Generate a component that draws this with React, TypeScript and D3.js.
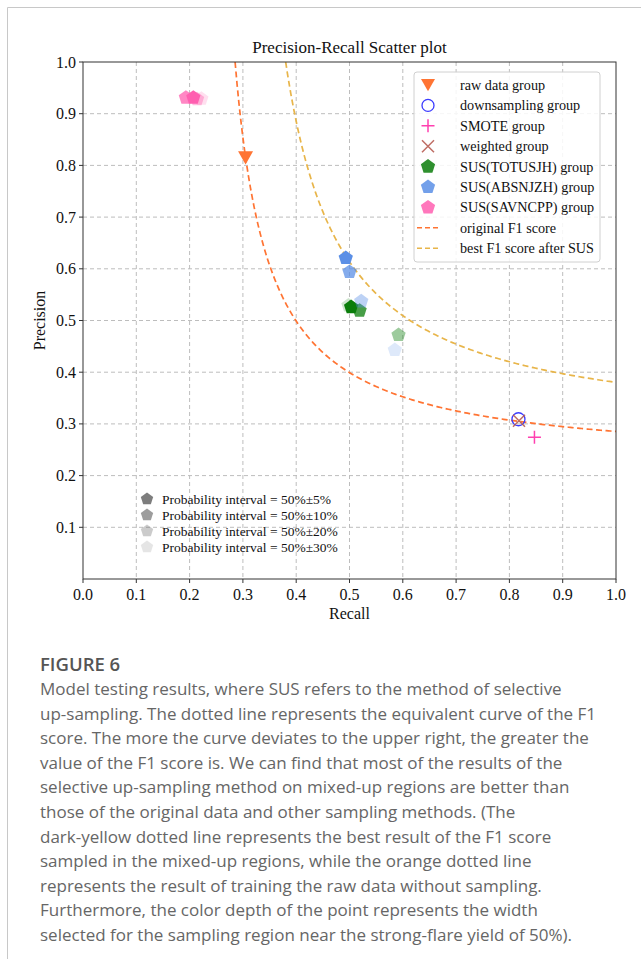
import React from "react";
import * as d3 from "d3";

// ---- data ----
const rawRecall = [0.305];
const rawPrecision = [0.815];
const downRecall = [0.817];
const downPrecision = [0.309];
const smoteRecall = [0.847];
const smotePrecision = [0.274];
const weightedRecall = [0.818];
const weightedPrecision = [0.306];
const totRecall = [0.503, 0.519, 0.592, 0.498];
const totPrecision = [0.526, 0.519, 0.472, 0.529];
const absRecall = [0.493, 0.5, 0.522, 0.585];
const absPrecision = [0.621, 0.594, 0.537, 0.443];
const savRecall = [0.207, 0.193, 0.214, 0.222];
const savPrecision = [0.931, 0.931, 0.928, 0.929];
const intervalLabels = ["50%±5%", "50%±10%", "50%±20%", "50%±30%"];
const intervalOpacity = [1, 0.75, 0.4, 0.2];
const originalF1 = 0.444;
const bestF1 = 0.551;
const xTicks = [0, 0.1, 0.2, 0.3, 0.4, 0.5, 0.6, 0.7, 0.8, 0.9, 1.0];
const yTicks = [0.1, 0.2, 0.3, 0.4, 0.5, 0.6, 0.7, 0.8, 0.9, 1.0];
const legendLabels = [
  "raw data group",
  "downsampling group",
  "SMOTE group",
  "weighted group",
  "SUS(TOTUSJH) group",
  "SUS(ABSNJZH) group",
  "SUS(SAVNCPP) group",
  "original F1 score",
  "best F1 score after SUS",
];
const captionTitle = "FIGURE 6";
const captionLines = [
  "Model testing results, where SUS refers to the method of selective",
  "up-sampling. The dotted line represents the equivalent curve of the F1",
  "score. The more the curve deviates to the upper right, the greater the",
  "value of the F1 score is. We can find that most of the results of the",
  "selective up-sampling method on mixed-up regions are better than",
  "those of the original data and other sampling methods. (The",
  "dark-yellow dotted line represents the best result of the F1 score",
  "sampled in the mixed-up regions, while the orange dotted line",
  "represents the result of training the raw data without sampling.",
  "Furthermore, the color depth of the point represents the width",
  "selected for the sampling region near the strong-flare yield of 50%).",
];

const W = 641;
const H = 959;
const X0 = 83, X1 = 616, Y0 = 579, Y1 = 62;
const serif = "'Liberation Serif', 'Times New Roman', serif";
const sans = "'Open Sans', 'Noto Sans', sans-serif";

const C_ORANGE = "#ff7433";
const C_YELLOW = "#e8b54a";
const C_PINK = "#ff5fb0";
const C_GREEN = "#0a7d0a";
const C_BLUE = "#5b8fe6";
const C_CIRCLE = "#3b3bff";
const C_PLUS = "#ff40b0";
const C_X = "#b5554a";

function pentagon(cx: number, cy: number, r: number) {
  const pts: [number, number][] = d3.range(5).map((i) => {
    const a = -Math.PI / 2 + (i * 2 * Math.PI) / 5;
    return [cx + r * Math.cos(a), cy + r * Math.sin(a)];
  });
  return (d3.line()(pts) as string) + "Z";
}

export default function App() {
  const x = d3.scaleLinear().domain([0, 1]).range([X0, X1]);
  const y = d3.scaleLinear().domain([0, 1]).range([Y0, Y1]);

  const curve = (f1: number) => {
    const rMin = f1 / (2 - f1);
    const rs = d3.range(0, 201).map((i) => rMin + ((1 - rMin) * i) / 200);
    const pts: [number, number][] = rs.map((r) => [x(r), y((f1 * r) / (2 * r - f1))]);
    return d3.line()(pts) as string;
  };

  const tri = (cx: number, cy: number, s: number) =>
    `M${cx - s},${cy - s * 0.85}L${cx + s},${cy - s * 0.85}L${cx},${cy + s * 0.9}Z`;

  const legendY = (i: number) => 85 + i * 20.4;
  const lx = 428;

  return (
    <svg width={W} height={H} style={{ position: "absolute", left: 0, top: 0, background: "#fff" }}>
      {/* outer frame */}
      <line x1={7.5} y1={7.5} x2={W} y2={7.5} stroke="#c8c8c8" />
      <line x1={7.5} y1={7.5} x2={7.5} y2={H} stroke="#c8c8c8" />

      {/* title */}
      <text x={(X0 + X1) / 2} y={53} textAnchor="middle" fontFamily={serif} fontSize={17} fill="#111">
        Precision-Recall Scatter plot
      </text>

      {/* grid */}
      {xTicks.slice(1, -1).map((t) => (
        <line key={"gx" + t} x1={x(t)} x2={x(t)} y1={Y1} y2={Y0} stroke="#bdbdbd" strokeDasharray="4,3" strokeWidth={1} />
      ))}
      {yTicks.slice(0, -1).map((t) => (
        <line key={"gy" + t} x1={X0} x2={X1} y1={y(t)} y2={y(t)} stroke="#bdbdbd" strokeDasharray="4,3" strokeWidth={1} />
      ))}

      {/* curves */}
      <clipPath id="plotclip">
        <rect x={X0} y={Y1} width={X1 - X0} height={Y0 - Y1} />
      </clipPath>
      <g clipPath="url(#plotclip)">
        <path d={curve(originalF1)} fill="none" stroke={C_ORANGE} strokeWidth={1.7} strokeDasharray="6,3.5" />
        <path d={curve(bestF1)} fill="none" stroke={C_YELLOW} strokeWidth={1.7} strokeDasharray="6,3.5" />
      </g>

      {/* SUS points (lightest drawn first) */}
      {[3, 2, 1, 0].map((i) => (
        <path key={"sav" + i} d={pentagon(x(savRecall[i]), y(savPrecision[i]), 7.5)} fill={C_PINK} fillOpacity={intervalOpacity[i]} />
      ))}
      {[3, 2, 1, 0].map((i) => (
        <path key={"tot" + i} d={pentagon(x(totRecall[i]), y(totPrecision[i]), 7.5)} fill={C_GREEN} fillOpacity={intervalOpacity[i]} />
      ))}
      {[3, 2, 1, 0].map((i) => (
        <path key={"abs" + i} d={pentagon(x(absRecall[i]), y(absPrecision[i]), 7.5)} fill={C_BLUE} fillOpacity={intervalOpacity[i]} />
      ))}

      {/* raw */}
      {rawRecall.map((r, i) => (
        <path key={"raw" + i} d={tri(x(r), y(rawPrecision[i]), 7.5)} fill={C_ORANGE} />
      ))}
      {/* downsampling */}
      {downRecall.map((r, i) => (
        <circle key={"down" + i} cx={x(r)} cy={y(downPrecision[i])} r={6.5} fill="none" stroke={C_CIRCLE} strokeWidth={1.3} />
      ))}
      {/* weighted */}
      {weightedRecall.map((r, i) => {
        const cx = x(r), cy = y(weightedPrecision[i]);
        return (
          <path key={"w" + i} d={`M${cx - 6},${cy - 6}L${cx + 6},${cy + 6}M${cx - 6},${cy + 6}L${cx + 6},${cy - 6}`} stroke={C_X} strokeWidth={1.5} opacity={0.85} />
        );
      })}
      {/* smote */}
      {smoteRecall.map((r, i) => {
        const cx = x(r), cy = y(smotePrecision[i]);
        return (
          <path key={"s" + i} d={`M${cx - 6.5},${cy}L${cx + 6.5},${cy}M${cx},${cy - 6.5}L${cx},${cy + 6.5}`} stroke={C_PLUS} strokeWidth={1.5} />
        );
      })}

      {/* frame */}
      <rect x={X0} y={Y1} width={X1 - X0} height={Y0 - Y1} fill="none" stroke="#333" strokeWidth={1} />

      {/* axis ticks */}
      {xTicks.map((t) => (
        <g key={"xt" + t}>
          <line x1={x(t)} x2={x(t)} y1={Y0} y2={Y0 + 4} stroke="#333" />
          <text x={x(t)} y={Y0 + 21} textAnchor="middle" fontFamily={serif} fontSize={16} fill="#111">
            {t.toFixed(1)}
          </text>
        </g>
      ))}
      {yTicks.map((t) => (
        <g key={"yt" + t}>
          <line x1={X0 - 4} x2={X0} y1={y(t)} y2={y(t)} stroke="#333" />
          <text x={X0 - 7} y={y(t) + 5.5} textAnchor="end" fontFamily={serif} fontSize={16} fill="#111">
            {t.toFixed(1)}
          </text>
        </g>
      ))}
      <text x={(X0 + X1) / 2} y={619} textAnchor="middle" fontFamily={serif} fontSize={16} fill="#111">
        Recall
      </text>
      <text transform={`translate(45,${(Y0 + Y1) / 2}) rotate(-90)`} textAnchor="middle" fontFamily={serif} fontSize={16} fill="#111">
        Precision
      </text>

      {/* legend */}
      <rect x={414} y={72} width={186} height={190} rx={3} fill="#fff" fillOpacity={0.85} stroke="#d0d0d0" />
      {legendLabels.map((lab, i) => {
        const cy = legendY(i);
        let m: React.ReactNode = null;
        if (i === 0) m = <path d={tri(lx, cy, 7)} fill={C_ORANGE} />;
        else if (i === 1) m = <circle cx={lx} cy={cy} r={6} fill="none" stroke={C_CIRCLE} strokeWidth={1.3} />;
        else if (i === 2)
          m = <path d={`M${lx - 6.5},${cy}L${lx + 6.5},${cy}M${lx},${cy - 6.5}L${lx},${cy + 6.5}`} stroke={C_PLUS} strokeWidth={1.5} />;
        else if (i === 3)
          m = <path d={`M${lx - 6},${cy - 6}L${lx + 6},${cy + 6}M${lx - 6},${cy + 6}L${lx + 6},${cy - 6}`} stroke={C_X} strokeWidth={1.5} opacity={0.85} />;
        else if (i === 4) m = <path d={pentagon(lx, cy, 7.5)} fill={C_GREEN} fillOpacity={0.85} />;
        else if (i === 5) m = <path d={pentagon(lx, cy, 7.5)} fill={C_BLUE} fillOpacity={0.85} />;
        else if (i === 6) m = <path d={pentagon(lx, cy, 7.5)} fill={C_PINK} fillOpacity={0.85} />;
        else if (i === 7) m = <line x1={lx - 11} x2={lx + 11} y1={cy} y2={cy} stroke={C_ORANGE} strokeWidth={1.6} strokeDasharray="5,3" />;
        else m = <line x1={lx - 11} x2={lx + 11} y1={cy} y2={cy} stroke={C_YELLOW} strokeWidth={1.6} strokeDasharray="5,3" />;
        return (
          <g key={"lg" + i}>
            {m}
            <text x={460} y={cy + 5} fontFamily={serif} fontSize={14.2} fill="#111">
              {lab}
            </text>
          </g>
        );
      })}

      {/* probability legend */}
      {intervalLabels.map((lab, i) => {
        const cy = 499 + i * 16;
        return (
          <g key={"pl" + i}>
            <path d={pentagon(147, cy, 6.5)} fill="#666" fillOpacity={intervalOpacity[i] * 0.85} />
            <text x={162} y={cy + 5} fontFamily={serif} fontSize={13.5} fill="#111">
              {"Probability interval = " + lab}
            </text>
          </g>
        );
      })}

      {/* caption */}
      <text x={40} y={671} fontFamily={sans} fontSize={18.5} fontWeight={600} fill="#555">
        {captionTitle}
      </text>
      {captionLines.map((l, i) => (
        <text key={"cap" + i} x={40} y={695 + i * 24.6} fontFamily={sans} fontSize={17} fill="#666">
          {l}
        </text>
      ))}
    </svg>
  );
}
